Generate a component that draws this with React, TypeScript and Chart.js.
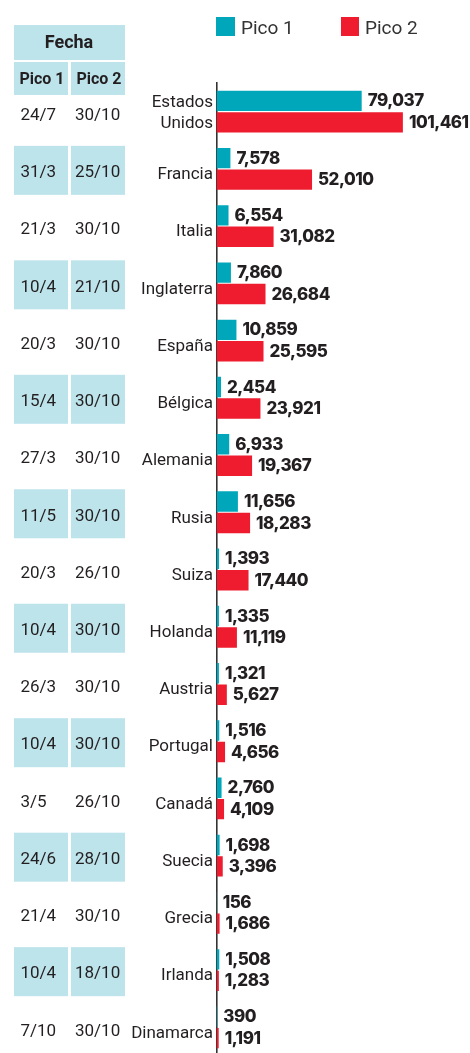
import React, { useEffect, useRef } from "react";
import { Chart, registerables } from "chart.js";

Chart.register(...registerables);

const countries: (string | string[])[] = [
  ["Estados", "Unidos"], "Francia", "Italia", "Inglaterra", "España", "Bélgica", "Alemania",
  "Rusia", "Suiza", "Holanda", "Austria", "Portugal", "Canadá", "Suecia", "Grecia", "Irlanda", "Dinamarca",
];
const pico1Values = [79037, 7578, 6554, 7860, 10859, 2454, 6933, 11656, 1393, 1335, 1321, 1516, 2760, 1698, 156, 1508, 390];
const pico2Values = [101461, 52010, 31082, 26684, 25595, 23921, 19367, 18283, 17440, 11119, 5627, 4656, 4109, 3396, 1686, 1283, 1191];
const pico1Dates = ["24/7", "31/3", "21/3", "10/4", "20/3", "15/4", "27/3", "11/5", "20/3", "10/4", "26/3", "10/4", "3/5", "24/6", "21/4", "10/4", "7/10"];
const pico2Dates = ["30/10", "25/10", "30/10", "21/10", "30/10", "30/10", "30/10", "30/10", "26/10", "30/10", "30/10", "30/10", "26/10", "28/10", "30/10", "18/10", "30/10"];
const seriesNames = ["Pico 1", "Pico 2"];
const tableTitle = "Fecha";

const CYAN = "#00A7BA";
const RED = "#EE1C2E";
const TABLE_BG = "#BDE3EB";
const TEXT = "#231F20";

const overlayPlugin = {
  id: "overlay",
  afterDraw(chart: any) {
    const ctx = chart.ctx;
    const y = chart.scales.y;
    ctx.save();
    // table header
    ctx.fillStyle = TABLE_BG;
    ctx.fillRect(14, 25, 111, 35);
    ctx.fillRect(14, 62, 54, 33);
    ctx.fillRect(71, 62, 54, 33);
    ctx.fillStyle = TEXT;
    ctx.textAlign = "center";
    ctx.textBaseline = "middle";
    ctx.font = "bold 18px Roboto";
    ctx.fillText(tableTitle, 69, 43);
    ctx.font = "bold 16px Roboto";
    ctx.fillText(seriesNames[0], 42, 80);
    ctx.fillText(seriesNames[1], 99, 80);
    // table rows + country labels
    for (let i = 0; i < countries.length; i++) {
      const c = y.getPixelForValue(i);
      const cy = c + 1.5;
      if (i % 2 === 1) {
        ctx.fillStyle = TABLE_BG;
        ctx.fillRect(14, cy - 24.5, 54, 49);
        ctx.fillRect(71, cy - 24.5, 54, 49);
      }
      ctx.fillStyle = TEXT;
      ctx.textAlign = "left";
      ctx.font = "17px Roboto";
      ctx.fillText(pico1Dates[i], 20.5, cy + 2.5);
      ctx.fillText(pico2Dates[i], 75, cy + 2.5);
      ctx.textAlign = "right";
      const lab = countries[i];
      if (Array.isArray(lab)) {
        ctx.fillText(lab[0], 213, c - 9);
        ctx.fillText(lab[1], 213, c + 12.5);
      } else {
        ctx.fillText(lab, 213, c + 6);
      }
    }
    // legend
    ctx.textAlign = "left";
    ctx.fillStyle = CYAN;
    ctx.fillRect(216, 17, 19, 19);
    ctx.fillStyle = RED;
    ctx.fillRect(341, 17, 18, 19);
    ctx.fillStyle = "#333333";
    ctx.font = "19px Roboto";
    ctx.fillText(seriesNames[0], 241, 29);
    ctx.fillText(seriesNames[1], 365, 29);
    // value labels
    ctx.fillStyle = TEXT;
    ctx.font = "800 17px Inter";
    try { (ctx as any).letterSpacing = "-0.5px"; } catch (e) {}
    chart.data.datasets.forEach((ds: any, di: number) => {
      const meta = chart.getDatasetMeta(di);
      meta.data.forEach((bar: any, i: number) => {
        const v = ds.data[i] as number;
        ctx.fillText(v.toLocaleString("en-US"), bar.x + 6, bar.y + 0.5);
      });
    });
    ctx.restore();
  },
};

export default function App() {
  const ref = useRef<HTMLCanvasElement | null>(null);
  useEffect(() => {
    document.body.style.margin = "0";
    const canvas = ref.current!;
    const chart = new Chart(canvas, {
      type: "bar",
      data: {
        labels: countries,
        datasets: [
          { label: seriesNames[0], data: pico1Values, backgroundColor: CYAN, categoryPercentage: 0.75, barPercentage: 0.95 },
          { label: seriesNames[1], data: pico2Values, backgroundColor: RED, categoryPercentage: 0.75, barPercentage: 0.95 },
        ],
      },
      options: {
        indexAxis: "y",
        animation: false,
        responsive: false,
        devicePixelRatio: 1,
        layout: { padding: { top: 83, left: 0, right: 0, bottom: 0 } },
        plugins: { legend: { display: false }, tooltip: { enabled: false } },
        scales: {
          x: { display: false, min: 0, max: 138000 },
          y: {
            grid: { display: false, drawTicks: false },
            border: { display: true, color: "#333333", width: 1.6 },
            ticks: { display: false },
            afterFit: (scale: any) => {
              scale.width = 216.5;
            },
          },
        },
      },
      plugins: [overlayPlugin],
    });
    return () => chart.destroy();
  }, []);
  return (
    <div style={{ width: 470, height: 1053, overflow: "hidden", position: "relative", background: "#fff" }}>
      <canvas ref={ref} width={470} height={1056} style={{ display: "block", width: 470, height: 1056 }} />
    </div>
  );
}
